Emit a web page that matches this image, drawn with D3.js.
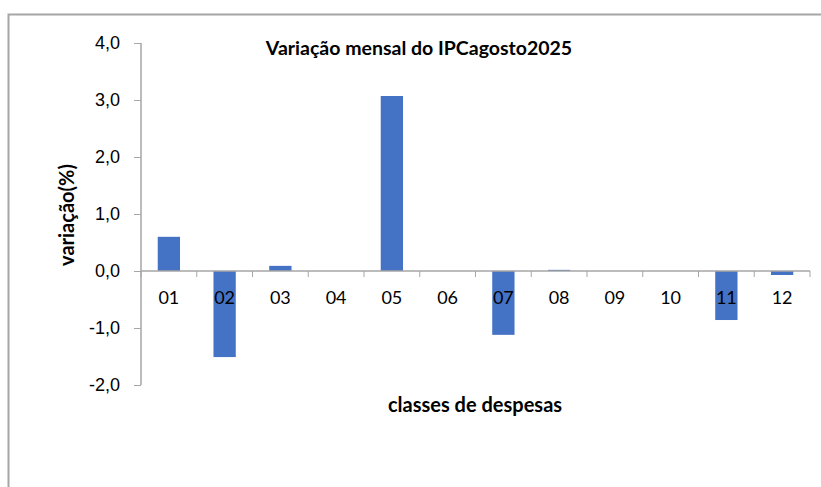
<!DOCTYPE html>
<html>
<head>
<meta charset="utf-8">
<script src="https://cdn.jsdelivr.net/npm/d3@7"></script>
<style>
  body { margin: 0; background: #fff; }
  svg { display: block; font-family: Lato, "Open Sans", sans-serif; }
</style>
</head>
<body>
<svg id="chart" width="821" height="487"></svg>
<script>
// classes de despesas, variação mensal (%)
var classes = ["01", "02", "03", "04", "05", "06", "07", "08", "09", "10", "11", "12"];
var variacao = [0.60, -1.51, 0.09, 0.0, 3.07, 0.0, -1.12, 0.02, 0.0, 0.0, -0.86, -0.07];
var yTicks = [-2, -1, 0, 1, 2, 3, 4];

var svg = d3.select("#chart");
var margin = {left: 141, right: 11, top: 43, bottom: 102};
var width = 821, height = 487;

// outer frame, cut by the picture on the right and bottom
svg.append("path")
    .attr("d", "M8.5,487 V14.5 H821")
    .attr("fill", "none")
    .attr("stroke", "#a6a6a6")
    .attr("stroke-width", 2);

var x = d3.scaleBand()
    .domain(classes)
    .range([margin.left, width - margin.right])
    .paddingInner(0.6)
    .paddingOuter(0.3);

var y = d3.scaleLinear()
    .domain([-2, 4])
    .range([height - margin.bottom, margin.top]);

var fmt = function (d) { return d3.format(".1f")(d).replace(".", ",").replace("\u2212", "-"); };

// y axis
var yAxis = svg.append("g")
    .attr("transform", "translate(" + margin.left + ",0)")
    .call(d3.axisLeft(y).tickValues(yTicks).tickFormat(fmt).tickSize(7).tickPadding(14));
yAxis.select(".domain").attr("stroke", "#a6a6a6").attr("stroke-width", 1.5)
    .attr("d", "M0," + y(-2) + "V" + y(4));
yAxis.selectAll(".tick line").attr("stroke", "#a6a6a6");
yAxis.selectAll(".tick text").attr("font-size", 18).attr("fill", "#000");

// bars
svg.append("g").selectAll("rect")
    .data(variacao)
    .join("rect")
    .attr("x", function (d, i) { return x(classes[i]); })
    .attr("width", x.bandwidth())
    .attr("y", function (d) { return y(Math.max(0, d)); })
    .attr("height", function (d) { return Math.abs(y(d) - y(0)); })
    .attr("fill", "#4472c4");

// category axis at zero
var step = x.step();
var xAxis = svg.append("g").attr("transform", "translate(0," + y(0) + ")");
xAxis.append("line")
    .attr("x1", margin.left).attr("x2", width - margin.right)
    .attr("stroke", "#a6a6a6").attr("stroke-width", 1.5);
xAxis.selectAll(".tk")
    .data(d3.range(classes.length + 1))
    .join("line")
    .attr("class", "tk")
    .attr("x1", function (i) { return margin.left + i * step; })
    .attr("x2", function (i) { return margin.left + i * step; })
    .attr("y1", 0).attr("y2", 6)
    .attr("stroke", "#a6a6a6");
xAxis.selectAll("text")
    .data(classes)
    .join("text")
    .attr("x", function (d) { return x(d) + x.bandwidth() / 2; })
    .attr("y", 33)
    .attr("text-anchor", "middle")
    .attr("font-size", 18)
    .attr("fill", "#000")
    .text(function (d) { return d; });

// titles
svg.append("text")
    .attr("x", 419).attr("y", 55)
    .attr("text-anchor", "middle")
    .attr("font-size", 19.5).attr("font-weight", "bold")
    .text("Variação mensal do IPCagosto2025");

svg.append("text")
    .attr("x", 475).attr("y", 412)
    .attr("text-anchor", "middle")
    .attr("font-size", 20).attr("font-weight", "bold")
    .text("classes de despesas");

svg.append("text")
    .attr("transform", "translate(74,215) rotate(-90)")
    .attr("text-anchor", "middle")
    .attr("font-size", 20).attr("font-weight", "bold")
    .text("variação(%)");
</script>
</body>
</html>
